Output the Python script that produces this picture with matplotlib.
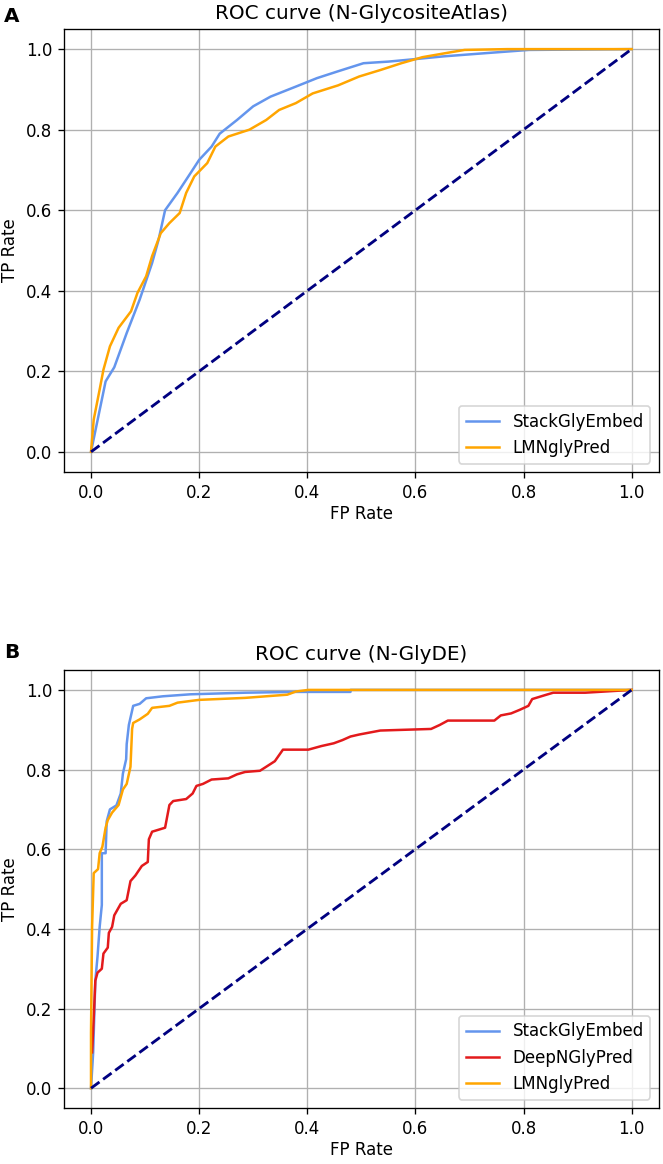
import numpy as np
import matplotlib.pyplot as plt

# Panel A: N-GlycositeAtlas
a_stack_fpr = [0, 0.027, 0.043, 0.066, 0.09, 0.113, 0.125, 0.137, 0.16, 0.184, 0.2, 0.223,
               0.238, 0.27, 0.30, 0.332, 0.379, 0.418, 0.457, 0.504, 0.55, 0.598, 0.652,
               0.73, 0.81, 1.0]
a_stack_tpr = [0, 0.175, 0.21, 0.295, 0.378, 0.469, 0.527, 0.60, 0.643, 0.692, 0.725, 0.758,
               0.79, 0.824, 0.858, 0.882, 0.907, 0.928, 0.945, 0.965, 0.969, 0.975, 0.982,
               0.99, 0.998, 1.0]
a_lmn_fpr = [0, 0.005, 0.016, 0.023, 0.035, 0.051, 0.074, 0.086, 0.102, 0.113, 0.129, 0.145,
             0.164, 0.176, 0.191, 0.215, 0.23, 0.254, 0.293, 0.324, 0.348, 0.379, 0.41,
             0.457, 0.496, 0.535, 0.574, 0.613, 0.66, 0.691, 0.77, 1.0]
a_lmn_tpr = [0, 0.08, 0.155, 0.204, 0.262, 0.308, 0.349, 0.395, 0.436, 0.486, 0.543, 0.568,
             0.593, 0.643, 0.684, 0.717, 0.758, 0.783, 0.80, 0.824, 0.849, 0.866, 0.89,
             0.91, 0.932, 0.948, 0.965, 0.98, 0.991, 0.998, 1.0, 1.0]

# Panel B: N-GlyDE
b_stack_fpr = [0, 0.004, 0.008, 0.012, 0.016, 0.02, 0.02, 0.027, 0.029, 0.035, 0.047, 0.055,
               0.059, 0.065, 0.066, 0.07, 0.078, 0.09, 0.102, 0.133, 0.184, 0.285, 0.379,
               0.48, 0.48, 1.0]
b_stack_tpr = [0, 0.09, 0.27, 0.33, 0.405, 0.46, 0.59, 0.59, 0.67, 0.70, 0.71, 0.74,
               0.79, 0.826, 0.864, 0.912, 0.96, 0.965, 0.979, 0.984, 0.989, 0.993, 0.995,
               0.995, 1.0, 1.0]
b_deep_fpr = [0.002, 0.005, 0.008, 0.012, 0.02, 0.023, 0.031, 0.033, 0.039, 0.043, 0.055,
              0.066, 0.073, 0.082, 0.094, 0.105, 0.107, 0.113, 0.137, 0.145, 0.152, 0.176,
              0.188, 0.195, 0.207, 0.223, 0.254, 0.27, 0.285, 0.3125, 0.324, 0.34, 0.355,
              0.402, 0.426, 0.449, 0.465, 0.48, 0.496, 0.535, 0.629, 0.645, 0.66, 0.746,
              0.758, 0.777, 0.793, 0.809, 0.816, 0.84, 0.855, 0.914, 1.0]
b_deep_tpr = [0.09, 0.176, 0.27, 0.29, 0.30, 0.338, 0.353, 0.39, 0.405, 0.434, 0.463,
              0.472, 0.52, 0.534, 0.558, 0.568, 0.625, 0.644, 0.654, 0.711, 0.721, 0.726,
              0.74, 0.759, 0.764, 0.775, 0.778, 0.788, 0.794, 0.797, 0.807, 0.821, 0.85,
              0.85, 0.859, 0.866, 0.874, 0.883, 0.888, 0.898, 0.902, 0.912, 0.923, 0.923,
              0.936, 0.941, 0.95, 0.96, 0.977, 0.987, 0.993, 0.993, 1.0]
b_lmn_fpr = [0, 0, 0.002, 0.005, 0.013, 0.016, 0.021, 0.027, 0.031, 0.039, 0.051, 0.059,
             0.066, 0.073, 0.076, 0.078, 0.09, 0.105, 0.113, 0.145, 0.16, 0.2, 0.285,
             0.363, 0.379, 0.402, 1.0]
b_lmn_tpr = [0, 0.138, 0.405, 0.54, 0.55, 0.59, 0.606, 0.654, 0.673, 0.692, 0.711, 0.75,
             0.764, 0.807, 0.902, 0.917, 0.926, 0.94, 0.955, 0.96, 0.968, 0.975, 0.98,
             0.988, 0.996, 1.0, 1.0]

c_stack = '#6495ED'
c_lmn = '#FFA500'
c_deep = '#E31A1C'

fig = plt.figure(figsize=(663 / 120, 1164 / 120), dpi=120)
ax1 = fig.add_axes([0.0965, 0.5945, 0.897, 0.3806])
ax2 = fig.add_axes([0.0965, 0.048, 0.897, 0.3764])

ax1.plot(a_stack_fpr, a_stack_tpr, color=c_stack, lw=1.5, label='StackGlyEmbed')
ax1.plot(a_lmn_fpr, a_lmn_tpr, color=c_lmn, lw=1.5, label='LMNglyPred')
ax1.plot([0, 1], [0, 1], color='navy', lw=1.7, ls='--')
ax1.set_title('ROC curve (N-GlycositeAtlas)')

ax2.plot(b_stack_fpr, b_stack_tpr, color=c_stack, lw=1.5, label='StackGlyEmbed')
ax2.plot(b_deep_fpr, b_deep_tpr, color=c_deep, lw=1.5, label='DeepNGlyPred')
ax2.plot(b_lmn_fpr, b_lmn_tpr, color=c_lmn, lw=1.5, label='LMNglyPred')
ax2.plot([0, 1], [0, 1], color='navy', lw=1.7, ls='--')
ax2.set_title('ROC curve (N-GlyDE)')

for ax in (ax1, ax2):
    ax.set_xlabel('FP Rate', labelpad=2)
    ax.set_ylabel('TP Rate')
    ax.set_xticks(np.arange(0, 1.01, 0.2))
    ax.set_yticks(np.arange(0, 1.01, 0.2))
    ax.grid(True)
    ax.legend(loc='lower right')

fig.text(0.006, 0.9854, 'A', fontsize=12, fontweight='bold', va='center')
fig.text(0.006, 0.4394, 'B', fontsize=12, fontweight='bold', va='center')

fig.savefig('out.png', dpi=120)
